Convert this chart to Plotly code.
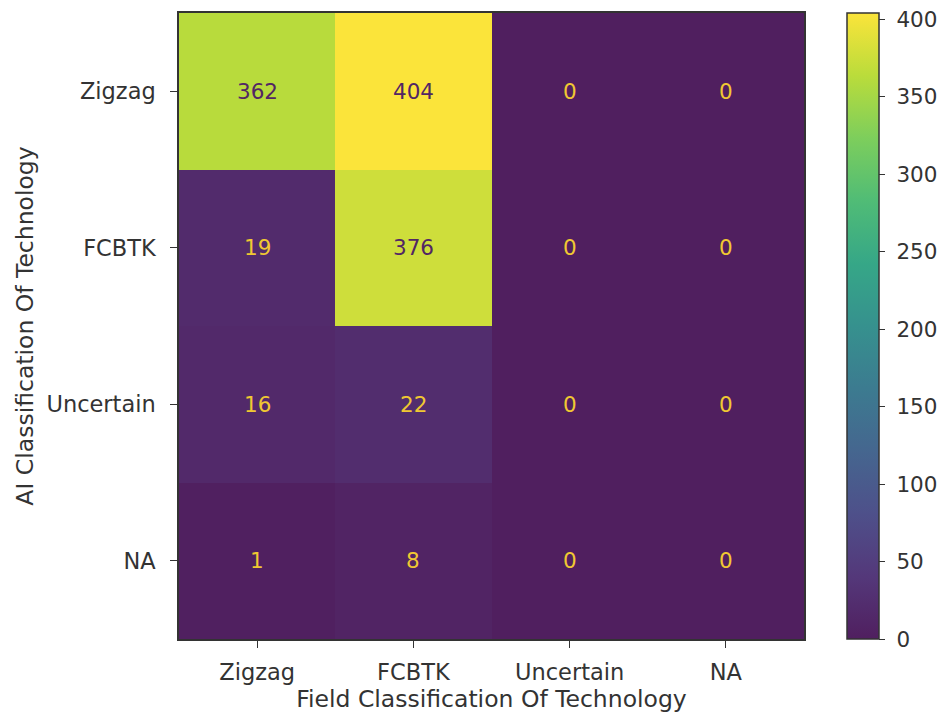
import plotly.graph_objects as go

field_labels = ["Zigzag", "FCBTK", "Uncertain", "NA"]
ai_labels = ["Zigzag", "FCBTK", "Uncertain", "NA"]
counts = [
    [362, 404, 0, 0],
    [19, 376, 0, 0],
    [16, 22, 0, 0],
    [1, 8, 0, 0],
]
colorbar_ticks = [0, 50, 100, 150, 200, 250, 300, 350, 400]

# viridis stops (slightly hazed to match the printed reference)
viridis = [
    (68, 1, 84), (72, 36, 117), (65, 68, 135), (53, 95, 141), (42, 120, 142),
    (33, 145, 140), (34, 168, 132), (68, 191, 112), (122, 209, 81),
    (189, 223, 38), (253, 231, 37),
]


def haze(c, g=(150, 150, 160)):
    out = []
    for ci, gi in zip(c, g):
        k = 0.18 * (1 - ci / 255) + 0.02
        out.append(round(ci + (gi - ci) * k))
    return "rgb(%d,%d,%d)" % tuple(out)


colorscale = [[i / (len(viridis) - 1), haze(c)] for i, c in enumerate(viridis)]
low_color = "rgb(82,38,100)"
high_color = "rgb(240,200,50)"

vmin = min(min(r) for r in counts)
vmax = max(max(r) for r in counts)
thresh = (vmin + vmax) / 2.0

FONT = "DejaVu Sans"
FS_TICK = 22.5
FS_TITLE = 23.5
FS_NUM = 21.5
TXT = "#333"

fig = go.Figure(
    go.Heatmap(
        z=counts,
        x=field_labels,
        y=ai_labels,
        colorscale=colorscale,
        zmin=vmin,
        zmax=vmax,
        hoverinfo="skip",
        colorbar=dict(
            x=1.069,
            xanchor="left",
            xref="paper",
            xpad=0,
            ypad=0,
            y=0.5,
            yanchor="middle",
            len=1.0,
            lenmode="fraction",
            thickness=32,
            thicknessmode="pixels",
            outlinewidth=1.5,
            outlinecolor="#333",
            tickvals=colorbar_ticks,
            ticktext=["\u00a0" + str(t) for t in colorbar_ticks],
            ticks="outside",
            ticklen=6,
            tickcolor="#333",
            tickfont=dict(family=FONT, size=FS_NUM, color=TXT),
        ),
    )
)

annotations = []
for i, row in enumerate(counts):
    for j, v in enumerate(row):
        color = low_color if v > thresh else high_color
        annotations.append(
            dict(
                x=field_labels[j],
                y=ai_labels[i],
                xref="x",
                yref="y",
                text=str(v),
                showarrow=False,
                font=dict(family=FONT, size=FS_NUM, color=color),
            )
        )

fig.update_layout(
    width=939,
    height=716,
    margin=dict(l=179, r=135, t=13, b=77, autoexpand=False),
    paper_bgcolor="white",
    plot_bgcolor="white",
    annotations=annotations,
    xaxis=dict(
        title=dict(text="Field Classification Of Technology", font=dict(family=FONT, size=FS_TITLE, color=TXT), standoff=6),
        tickfont=dict(family=FONT, size=FS_TICK, color=TXT),
        ticks="outside",
        ticklen=7,
        tickcolor="#333",
        ticklabelstandoff=5,
        showline=True,
        linecolor="#333",
        linewidth=1.5,
        mirror=True,
        showgrid=False,
        zeroline=False,
        automargin=False,
    ),
    yaxis=dict(
        title=dict(text="AI Classification Of Technology", font=dict(family=FONT, size=FS_TITLE, color=TXT), standoff=6),
        tickfont=dict(family=FONT, size=FS_TICK, color=TXT),
        ticks="outside",
        ticklen=7,
        tickcolor="#333",
        ticklabelstandoff=10,
        autorange="reversed",
        showline=True,
        linecolor="#333",
        linewidth=1.5,
        mirror=True,
        showgrid=False,
        zeroline=False,
        automargin=False,
    ),
)

fig.write_html(
    "out.html",
    config={"displayModeBar": False},
    post_script="document.body.style.margin='0';document.body.style.overflow='hidden';",
)
